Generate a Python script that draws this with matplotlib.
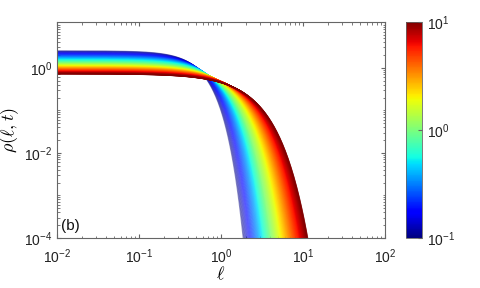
import matplotlib
matplotlib.use('Agg')

import numpy as np
import matplotlib.pyplot as plt
from matplotlib.colors import LogNorm
from matplotlib.ticker import LogLocator, NullFormatter

plt.rcParams['font.family'] = ['Liberation Sans', 'DejaVu Sans']
plt.rcParams['mathtext.fontset'] = 'cm'

# Curve parameters at three times (blue, green, red)
t_key = [0.1, 1.0, 10.0]
plateau = [2.5, 1.3, 0.72]     # rho at small ell
scale = [0.525, 0.9, 1.85]     # where the curve turns down
shape = [1.83, 1.5, 1.2]       # steepness of the drop

# times shown (colour axis 0.1 .. 10), denser at late times
times = np.linspace(np.sqrt(0.1), np.sqrt(10), 300) ** 2
ell = np.logspace(-2, 2, 700)

fig = plt.figure(figsize=(4.8, 2.88), dpi=100)
ax = fig.add_axes([0.119, 0.174, 0.683, 0.750])
cax = fig.add_axes([0.846, 0.174, 0.034, 0.750])

norm = LogNorm(vmin=0.1, vmax=10)
cmap = plt.get_cmap('jet')

lt_key = np.log10(t_key)
for t in times:
    lt = np.log10(t)
    A = 10 ** np.interp(lt, lt_key, np.log10(plateau))
    lam = 10 ** np.interp(lt, lt_key, np.log10(scale))
    b = np.interp(lt, lt_key, shape)
    rho = A * np.exp(-(ell / lam) ** b)
    ax.plot(ell, rho, color=cmap(norm(t)), lw=0.8, alpha=0.4)

ax.set_xscale('log')
ax.set_yscale('log')
ax.set_xlim(1e-2, 1e2)
ax.set_ylim(1e-4, 12)

ax.yaxis.set_major_locator(LogLocator(base=100.0))
ax.yaxis.set_minor_locator(LogLocator(base=10.0, subs=np.arange(1, 10) * 1.0, numticks=30))
ax.yaxis.set_minor_formatter(NullFormatter())
ax.xaxis.set_major_locator(LogLocator(base=10.0, numticks=10))
ax.xaxis.set_minor_locator(LogLocator(base=10.0, subs=np.arange(2, 10) * 1.0, numticks=30))
ax.xaxis.set_minor_formatter(NullFormatter())

edge = '#666666'
for s in ax.spines.values():
    s.set_color(edge)
    s.set_linewidth(0.8)
ax.tick_params(which='both', direction='in', top=True, right=True, color=edge,
               labelsize=10, labelcolor='#222222')
ax.tick_params(which='major', length=3)
ax.tick_params(which='minor', length=1.8)
ax.tick_params(axis='x', which='major', pad=7)

ax.set_xlabel(r'$\ell$', fontsize=13, labelpad=0)
ax.set_ylabel(r'$\rho(\ell,t)$', fontsize=13, labelpad=2)
ax.text(0.011, 1.5e-4, '(b)', fontsize=11, color='#111111')

sm = plt.cm.ScalarMappable(norm=norm, cmap=cmap)
cb = fig.colorbar(sm, cax=cax)
cb.set_ticks([0.1, 1, 10])
cb.ax.minorticks_off()
cb.outline.set_edgecolor(edge)
cb.outline.set_linewidth(0.6)
cb.ax.tick_params(direction='in', length=3, color=edge, labelsize=10, labelcolor='#222222')

fig.savefig('out.png', dpi=100)
